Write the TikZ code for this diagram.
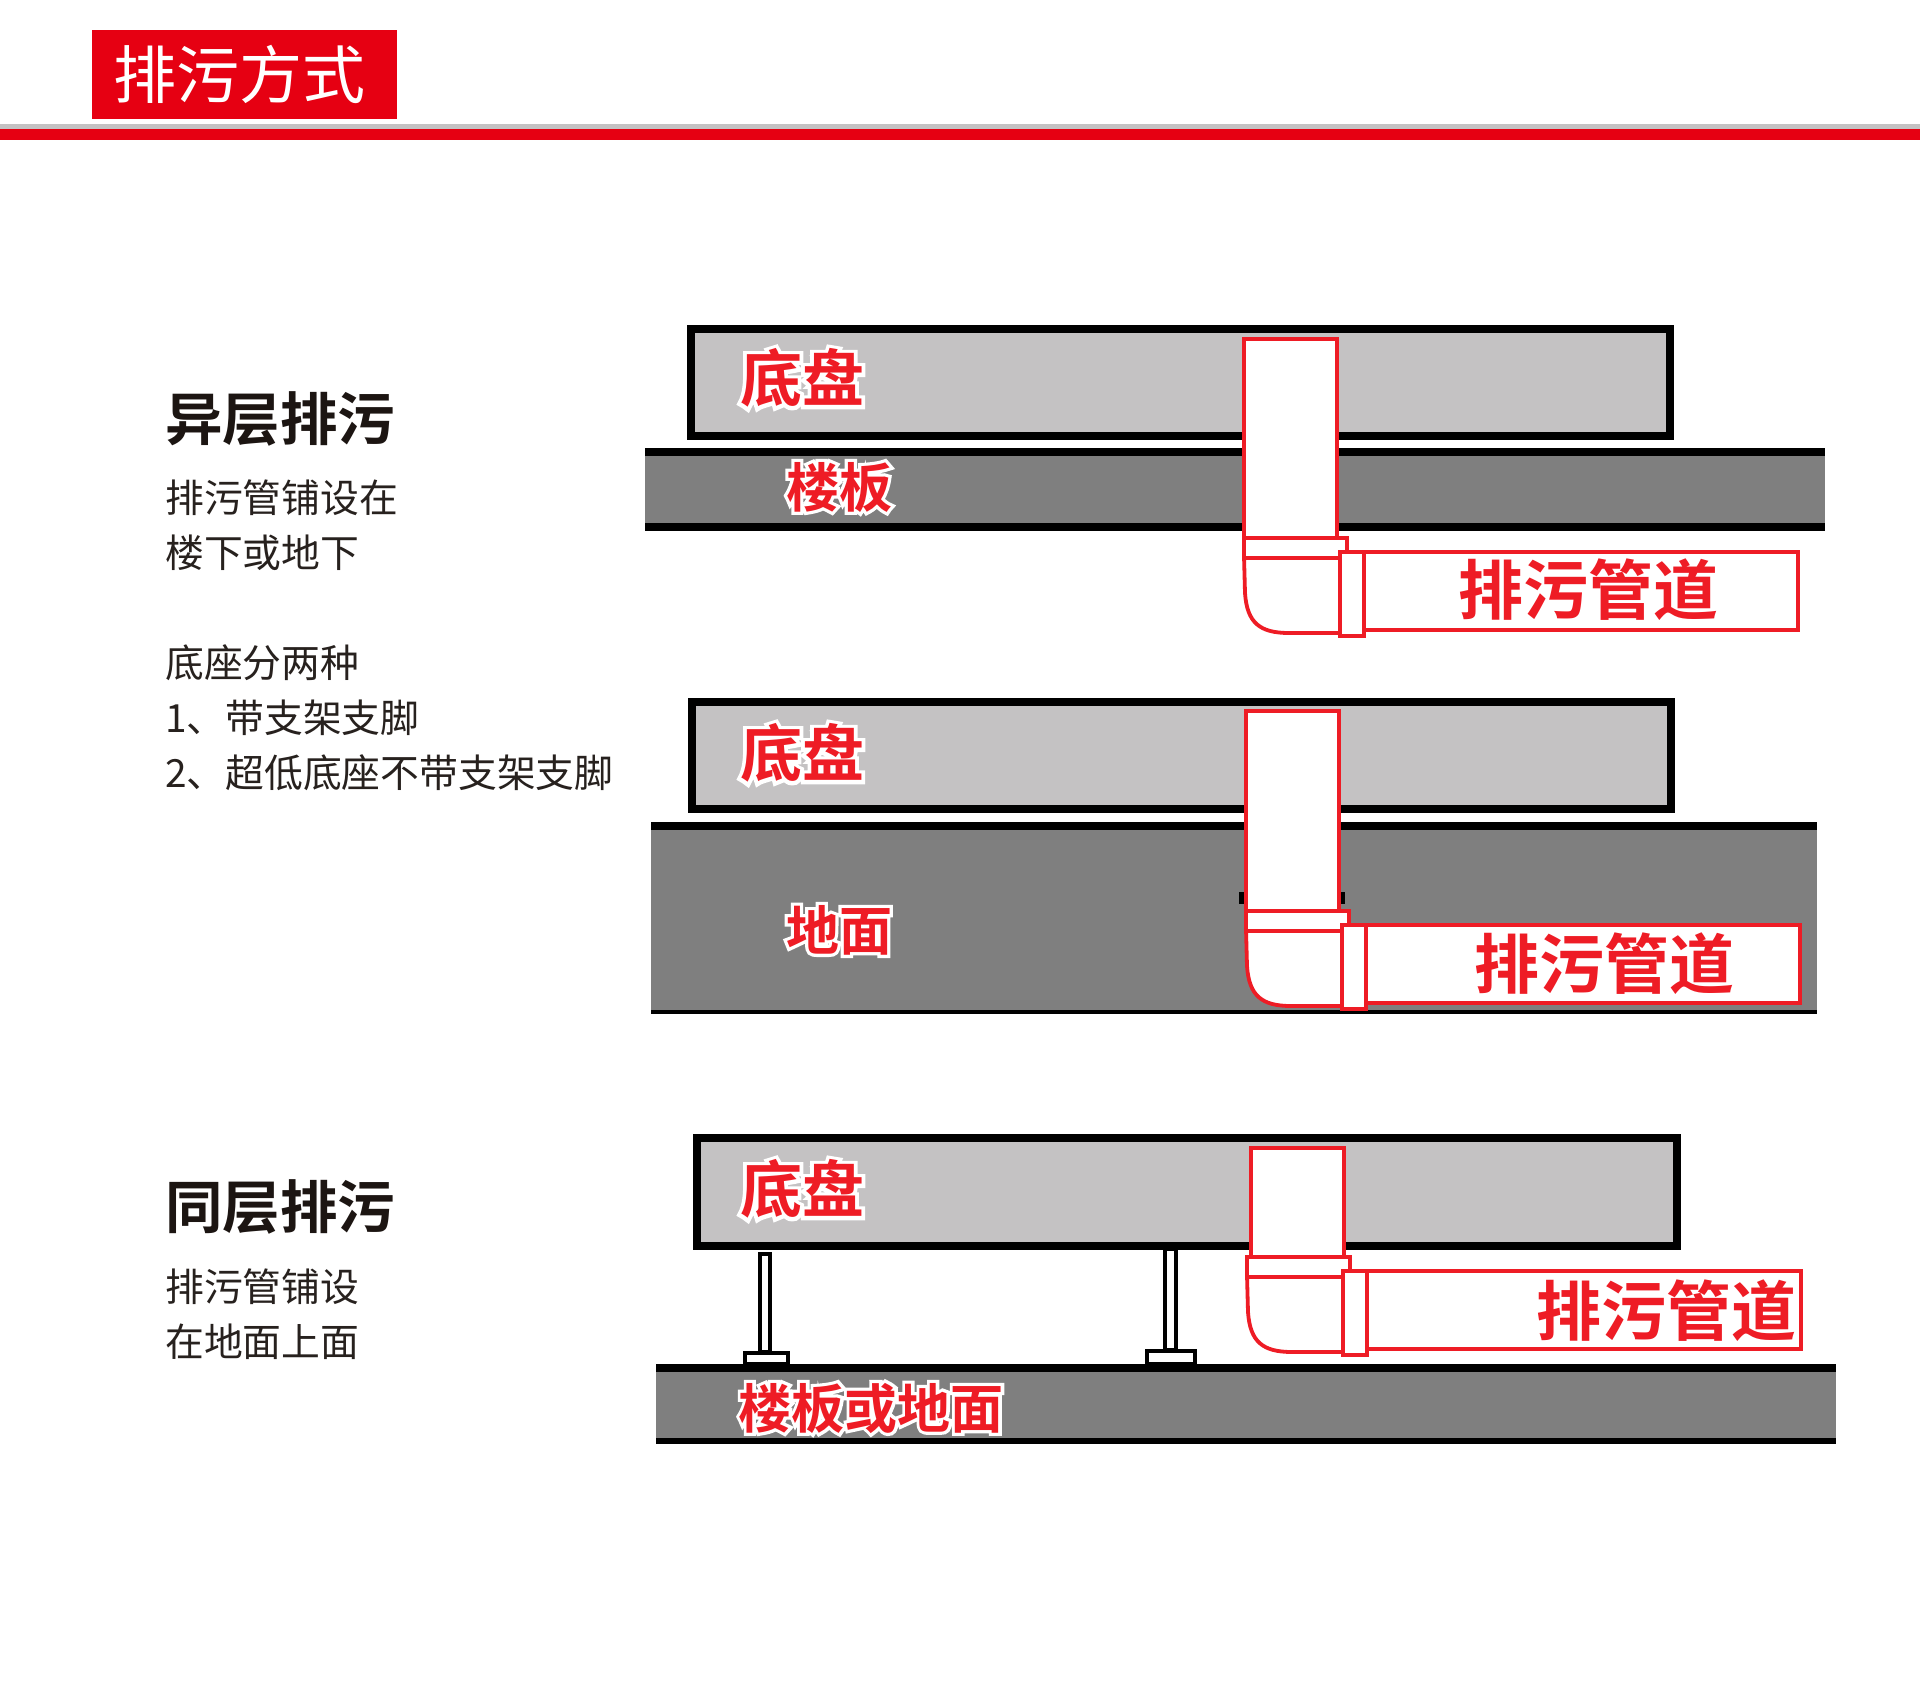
\documentclass[tikz,border=0pt]{standalone}
\usepackage{fontspec}
\usepackage{xcolor}
\usetikzlibrary{calc,positioning}
\setmainfont{Noto Sans CJK SC}
\newfontfamily\halofont[FakeBold=12]{Noto Sans CJK SC Bold}
\newfontfamily\boldfont{Noto Sans CJK SC Bold}
\definecolor{brandred}{HTML}{E60012}
\definecolor{pipered}{HTML}{EE1C25}
\definecolor{panelgrey}{HTML}{C4C2C3}
\definecolor{slabgrey}{HTML}{7F7F7F}
\definecolor{inkblack}{HTML}{1C1512}
\tikzset{
  bodytext/.style={anchor=west,inner sep=0pt,text=inkblack!95!white,font=\fontsize{38.8}{38.8}\selectfont},
  headtext/.style={anchor=west,inner sep=0pt,text=inkblack,font=\boldfont\fontsize{57.5}{57.5}\selectfont},
  pipeline/.style={draw=pipered,line width=3.8pt,fill=white},
  pipetext/.style={inner sep=0pt,text=pipered,font=\fontsize{65}{65}\boldfont\selectfont},
}
% red label on a white halo
\newcommand{\halolabel}[4]{
  \node[inner sep=0pt,text=white,font=\fontsize{#3}{#3}\halofont\selectfont] at (#1,#2) {#4};
  \node[inner sep=0pt,text=pipered,font=\fontsize{#3}{#3}\boldfont\selectfont] at (#1,#2) {#4};
}
% floor slab: grey body, black edge top and bottom
\newcommand{\slab}[5]{
  \fill[slabgrey] (#1,#3) rectangle (#2,#4);
  \fill[black] (#1,#3) rectangle (#2,#3+8);
  \fill[black] (#1,#4) rectangle (#2,#4-#5);
}
% drain pipe: x of riser, y of top, y of collar, x of fitting
\newcommand{\drainpipe}[4]{
  \draw[pipeline] (#4+118,#3+14) rectangle (#4+554,#3+92);
  \draw[pipeline] (#1,#2) rectangle (#1+93,#3);
  \draw[pipeline] (#4,#3+18) -- (#4+1,#3+55) .. controls (#4+3,#3+85) and (#4+16,#3+95) .. (#4+45,#3+95) -- (#4+96,#3+95) -- (#4+96,#3+18) -- cycle;
  \draw[pipeline] (#4,#3) rectangle (#4+103,#3+20);
  \draw[pipeline] (#4+96,#3+14) rectangle (#4+120,#3+98);
}
\begin{document}
\begin{tikzpicture}[x=1pt,y=-1pt]
  \useasboundingbox (0,0) rectangle (1920,1691);
  \fill[white] (0,0) rectangle (1920,1691);
  % title bar
  \fill[brandred] (92,30) rectangle (397,119);
  \fill[panelgrey] (0,124) rectangle (1920,130);
  \fill[brandred] (0,129) rectangle (1920,140);
  \node[text=white,inner sep=0pt,font=\fontsize{63}{63}\selectfont] (title) at (239,74) {排污方式};
  % left column
  \node[headtext] (headA) at (165,419) {异层排污};
  \node[bodytext] (lineA) at (165,498) {排污管铺设在};
  \node[bodytext] (lineB) at (165,553) {楼下或地下};
  \node[bodytext] (lineC) at (165,663) {底座分两种};
  \node[bodytext] (lineD) at (165,718) {1、带支架支脚};
  \node[bodytext] (lineE) at (165,773) {2、超低底座不带支架支脚};
  \node[headtext] (headB) at (165,1207) {同层排污};
  \node[bodytext] (lineF) at (165,1287) {排污管铺设};
  \node[bodytext] (lineG) at (165,1342) {在地面上面};
  % upper unit
  \draw[black,line width=8pt,fill=panelgrey] (691,329) rectangle (1670,436);
  \slab{645}{1825}{448}{531}{8}
  \drainpipe{1244}{339}{538}{1244}
  \halolabel{802}{378}{62}{底盘}
  \halolabel{839}{487}{53}{楼板}
  \node[pipetext] (pipeA) at (1588,590) {排污管道};
  % middle unit
  \draw[black,line width=8pt,fill=panelgrey] (692,702) rectangle (1671,809);
  \slab{651}{1817}{822}{1014}{4}
  \fill[black] (1239,892) rectangle (1249,904);
  \fill[black] (1335,892) rectangle (1345,904);
  \drainpipe{1246}{711}{911}{1246}
  \halolabel{802}{753}{62}{底盘}
  \halolabel{839}{930}{53}{地面}
  \node[pipetext] (pipeB) at (1604,964) {排污管道};
  % lower unit
  \draw[black,line width=8pt,fill=panelgrey] (697,1138) rectangle (1677,1246);
  \slab{656}{1836}{1364}{1444}{6}
  \draw[black,line width=4pt,fill=white] (760,1254) rectangle (770,1352);
  \draw[black,line width=4pt,fill=white] (1165,1249) rectangle (1176,1350);
  \draw[black,line width=4pt,fill=white] (745,1353) rectangle (788,1364);
  \draw[black,line width=4pt,fill=white] (1147,1351) rectangle (1195,1364);
  \drainpipe{1251}{1148}{1257}{1247}
  \halolabel{802}{1189}{62}{底盘}
  \halolabel{871}{1408}{53}{楼板或地面}
  \node[pipetext] (pipeC) at (1666,1311) {排污管道};
\end{tikzpicture}
\end{document}
